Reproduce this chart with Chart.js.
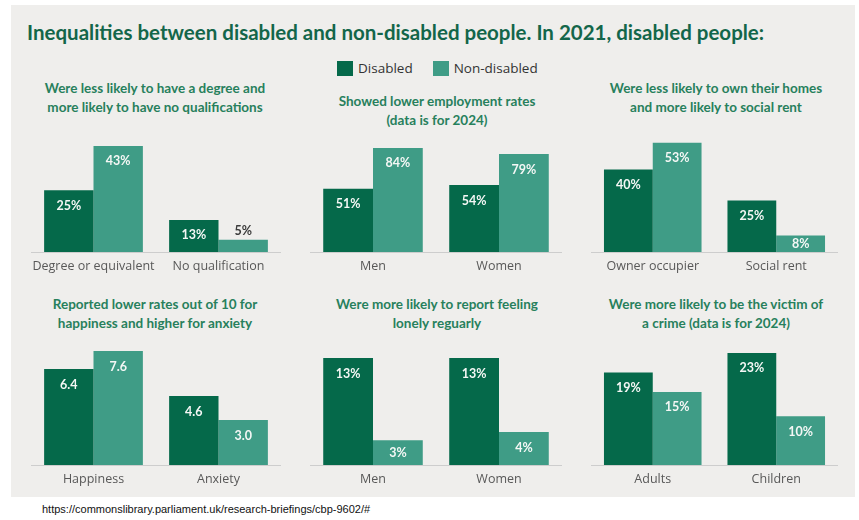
<!DOCTYPE html>
<html>
<head>
<meta charset="utf-8">
<script src="https://cdn.jsdelivr.net/npm/chart.js@4.4.1/dist/chart.umd.min.js"></script>
<style>
  body { margin: 0; width: 859px; height: 520px; background: #fff; position: relative; overflow: hidden; }
  #panel { position: absolute; left: 11px; top: 5px; width: 844px; height: 492px; background: #efeeec; }
  h1 { position: absolute; left: 27px; top: 19px; margin: 0; font: 700 20.5px Lato, sans-serif; color: #13664a; white-space: nowrap; line-height: 26px; }
  #legend { position: absolute; left: 337px; top: 59px; display: flex; align-items: center; font: 13.5px "Open Sans", sans-serif; color: #333; }
  #legend span.sw { display: inline-block; width: 16px; height: 15px; margin-right: 5px; }
  #legend span.item { display: flex; align-items: center; margin-right: 20px; }
  .sub { position: absolute; width: 290px; text-align: center; font: 700 13.5px Lato, sans-serif; color: #27805c; line-height: 19px; }
  .box { position: absolute; }
  #src { position: absolute; left: 42px; top: 503px; font: 11px "Liberation Sans", Arial, sans-serif; color: #111; }
</style>
</head>
<body>
<div id="panel"></div>
<h1>Inequalities between disabled and non-disabled people. In 2021, disabled people:</h1>
<div id="legend"></div>
<div id="src">https://commonslibrary.parliament.uk/research-briefings/cbp-9602/#</div>

<script>
// series
const seriesNames = ["Disabled", "Non-disabled"];
const seriesColors = ["#05694a", "#3f9c86"];

// degree / qualifications (%)
const eduCats = ["Degree or equivalent", "No qualification"];
const eduDisabled = [25, 13];
const eduNonDisabled = [43, 5];

// employment rates, 2024 (%)
const jobCats = ["Men", "Women"];
const jobDisabled = [51, 54];
const jobNonDisabled = [84, 79];

// housing tenure (%)
const homeCats = ["Owner occupier", "Social rent"];
const homeDisabled = [40, 25];
const homeNonDisabled = [53, 8];

// wellbeing scores out of 10
const wellCats = ["Happiness", "Anxiety"];
const wellDisabled = [6.4, 4.6];
const wellNonDisabled = [7.6, 3.0];

// lonely often/always (%)
const lonelyCats = ["Men", "Women"];
const lonelyDisabled = [13, 13];
const lonelyNonDisabled = [3, 4];

// victim of crime, 2024 (%)
const crimeCats = ["Adults", "Children"];
const crimeDisabled = [19, 23];
const crimeNonDisabled = [15, 10];

const pct = v => v + "%";
const score = v => v.toFixed(1);

const panels = [
  { title: ["Were less likely to have a degree and", "more likely to have no qualifications"],
    cats: eduCats, a: eduDisabled, b: eduNonDisabled, max: 53.5, fmt: pct,
    cx: 155, subTop: 79, left: 31, top: 120, w: 250, h: 130 },
  { title: ["Showed lower employment rates", "(data is for 2024)"],
    cats: jobCats, a: jobDisabled, b: jobNonDisabled, max: 106.5, fmt: pct,
    cx: 437, subTop: 92, left: 310, top: 120, w: 252, h: 130 },
  { title: ["Were less likely to own their homes", "and more likely to social rent"],
    cats: homeCats, a: homeDisabled, b: homeNonDisabled, max: 64, fmt: pct,
    cx: 716, subTop: 79, left: 591, top: 120, w: 247, h: 130 },
  { title: ["Reported lower rates out of 10 for", "happiness and higher for anxiety"],
    cats: wellCats, a: wellDisabled, b: wellNonDisabled, max: 9, fmt: score,
    cx: 155, subTop: 295, left: 31, top: 330, w: 250, h: 133 },
  { title: ["Were more likely to report feeling", "lonely reguarly"],
    cats: lonelyCats, a: lonelyDisabled, b: lonelyNonDisabled, max: 16.4, fmt: pct,
    cx: 437, subTop: 295, left: 310, top: 330, w: 252, h: 133 },
  { title: ["Were more likely to be the victim of", "a crime (data is for 2024)"],
    cats: crimeCats, a: crimeDisabled, b: crimeNonDisabled, max: 27.7, fmt: pct,
    cx: 716, subTop: 295, left: 591, top: 330, w: 247, h: 133 }
];

// shared legend
const legend = document.getElementById("legend");
seriesNames.forEach((name, i) => {
  const item = document.createElement("span");
  item.className = "item";
  item.innerHTML = '<span class="sw" style="background:' + seriesColors[i] + '"></span>' + name;
  legend.appendChild(item);
});

// value labels: inside the bar near its top, above it when the bar is too short
const valueLabels = {
  id: "valueLabels",
  afterDatasetsDraw(chart, args, opts) {
    const ctx = chart.ctx;
    ctx.save();
    ctx.font = "bold 12.5px Lato";
    ctx.textAlign = "center";
    ctx.textBaseline = "middle";
    chart.data.datasets.forEach((ds, i) => {
      chart.getDatasetMeta(i).data.forEach((bar, j) => {
        const text = opts.format(ds.data[j]);
        const h = bar.base - bar.y;
        if (h < 14) {
          ctx.fillStyle = "#3b3b3b";
          ctx.fillText(text, bar.x, bar.y - 9);
        } else {
          ctx.fillStyle = "#f4f7f5";
          ctx.fillText(text, bar.x, Math.min(bar.y + 15.5, (bar.y + bar.base) / 2));
        }
      });
    });
    ctx.restore();
  }
};

panels.forEach(function (p) {
  const sub = document.createElement("div");
  sub.className = "sub";
  sub.style.left = (p.cx - 145) + "px";
  sub.style.top = p.subTop + "px";
  sub.innerHTML = p.title.join("<br>");
  document.body.appendChild(sub);

  const box = document.createElement("div");
  box.className = "box";
  box.style.left = p.left + "px";
  box.style.top = p.top + "px";
  box.style.width = p.w + "px";
  box.style.height = (p.h + 31) + "px";
  const canvas = document.createElement("canvas");
  box.appendChild(canvas);
  document.body.appendChild(box);

  new Chart(canvas.getContext("2d"), {
    type: "bar",
    data: {
      labels: p.cats,
      datasets: [
        { label: seriesNames[0], data: p.a, backgroundColor: seriesColors[0] },
        { label: seriesNames[1], data: p.b, backgroundColor: seriesColors[1] }
      ]
    },
    options: {
      responsive: true,
      maintainAspectRatio: false,
      animation: false,
      layout: { padding: 0 },
      datasets: { bar: { categoryPercentage: 0.79, barPercentage: 1.0, borderWidth: 0 } },
      plugins: {
        legend: { display: false },
        tooltip: { enabled: false },
        valueLabels: { format: p.fmt }
      },
      scales: {
        x: {
          grid: { display: false, drawTicks: false },
          border: { display: true, color: "#cdcdcd", width: 1 },
          ticks: {
            color: "#585858",
            font: { family: "Open Sans", size: 12.5 },
            padding: 7,
            autoSkip: false,
            maxRotation: 0
          },
          // long labels may reach the edge; keep the plot full width anyway
          afterFit(scale) {
            scale.paddingLeft = 0;
            scale.paddingRight = 0;
          }
        },
        y: { display: false, min: 0, max: p.max }
      }
    },
    plugins: [valueLabels]
  });
});
</script>
</body>
</html>
